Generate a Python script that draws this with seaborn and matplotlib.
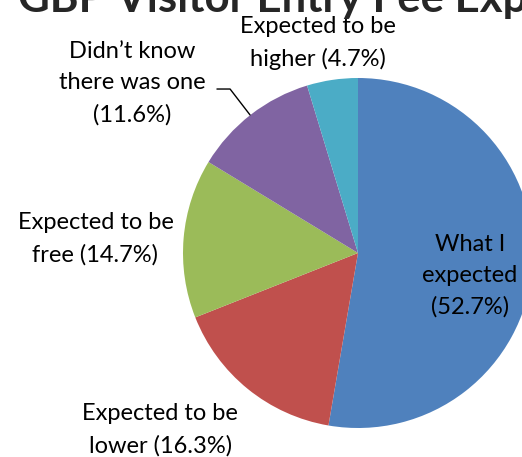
import matplotlib.pyplot as plt
import seaborn as sns

# --- data ---
categories = ["What I\nexpected", "Expected to be\nlower", "Expected to be\nfree",
              "Didn\u2019t know\nthere was one", "Expected to be\nhigher"]
shares = [52.7, 16.3, 14.7, 11.6, 4.7]
colors = ["#4F81BD", "#C0504D", "#9BBB59", "#8064A2", "#4BACC6"]
title = "GBP Visitor Entry Fee Expectations"

# label anchor positions in pie units (radius = 1)
label_pos = [(0.64, -0.13), (-1.13, -1.01), (-1.50, 0.08), (-1.29, 0.97), (-0.23, 1.20)]

sns.set_style("white")
plt.rcParams['font.family'] = ['Lato', 'DejaVu Sans']

fig = plt.figure(figsize=(5.22, 4.57), dpi=100)
ax = fig.add_axes([183 / 522, (457 - 428) / 457, 350 / 522, 350 / 457])

ax.pie(shares, colors=colors, startangle=90, counterclock=False, radius=1,
       wedgeprops=dict(linewidth=0))
ax.set_xlim(-1, 1)
ax.set_ylim(-1, 1)
ax.axis("off")

# labels with percentages
for (lx, ly), cat, val in zip(label_pos, categories, shares):
    if cat.startswith("Didn") or cat.startswith("What"):
        txt = f"{cat}\n({val}%)"
    else:
        txt = f"{cat} ({val}%)"
    ax.text(lx, ly, txt, ha="center", va="center", fontsize=17,
            linespacing=1.6, color="black")

# leader line for the small purple slice
ax.plot([-0.806, -0.731, -0.617], [0.937, 0.937, 0.789], color="black",
        lw=1, clip_on=False)

fig.text(18 / 522, 1 - 12 / 457, title, ha="left", va="baseline",
         fontsize=31.5, fontweight="bold")

fig.savefig("out.png", dpi=100)
